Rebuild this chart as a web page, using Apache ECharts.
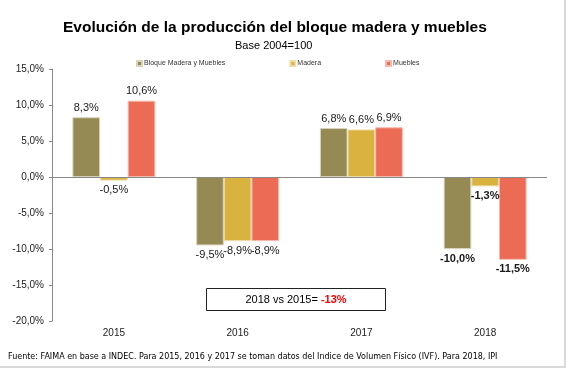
<!DOCTYPE html>
<html><head><meta charset="utf-8">
<script src="https://cdn.jsdelivr.net/npm/echarts@6/dist/echarts.min.js"></script>
<style>html,body{margin:0;padding:0;background:#fff}#c{width:566px;height:369px}</style>
</head><body><div id="c"></div>
<script>
var categories = ['2015', '2016', '2017', '2018'];
var bloque = [8.3, -9.5, 6.8, -10.0];
var madera = [-0.5, -8.9, 6.6, -1.3];
var muebles = [10.6, -8.9, 6.9, -11.5];
var seriesNames = ['Bloque Madera y Muebles', 'Madera', 'Muebles'];
var colors = ['#958A54', '#D9B240', '#EC6B55'];
var borders = ['#D8D2BA', '#EEDCA6', '#F6B9AE'];
var boldCats = ['2018'];

function fmt(v){ return v.toFixed(1).replace('.', ',') + '%'; }
function build(arr){
  return arr.map(function(v, i){
    var bold = boldCats.indexOf(categories[i]) >= 0;
    return { value: v, label: { position: v < 0 ? 'bottom' : 'top', fontWeight: bold ? 'bold' : 'normal' } };
  });
}
var allData = [bloque, madera, muebles];
var chart = echarts.init(document.getElementById('c'), null, {renderer: 'canvas'});
var series = allData.map(function(arr, k){
  var s = {
    name: seriesNames[k], type: 'bar', data: build(arr),
    barGap: '0%', barCategoryGap: '33%',
    itemStyle: { color: colors[k], borderColor: borders[k], borderWidth: 1 },
    label: { show: true, fontSize: 11, color: '#1a1a1a', fontFamily: 'Liberation Sans, Arial, sans-serif', distance: 4,
      formatter: function(p){ return fmt(p.value); } }
  };
  if (k === 0) {
    s.markLine = { silent: true, symbol: 'none', label: { show: false },
      lineStyle: { color: '#888', width: 1, type: 'solid' }, data: [{ yAxis: 0 }] };
  }
  return s;
});
chart.setOption({
  animation: false,
  title: [
    { text: 'Evolución de la producción del bloque madera y muebles', left: 58, top: 15,
      textStyle: { fontSize: 15.5, fontWeight: 'bold', color: '#000', fontFamily: 'Liberation Sans, Arial, sans-serif' } },
    { text: 'Base 2004=100', left: 230, top: 35,
      textStyle: { fontSize: 11, fontWeight: 'normal', color: '#000', fontFamily: 'Liberation Sans, Arial, sans-serif' } }
  ],
  legend: { top: 55, left: 131, itemWidth: 5, itemHeight: 5, itemGap: 64, icon: 'rect',
    textStyle: { fontSize: 7, color: '#333', fontFamily: 'Liberation Sans, Arial, sans-serif', padding: [0,0,0,-3] },
    data: seriesNames },
  grid: { left: 52, right: 19, top: 69, bottom: 48 },
  xAxis: { type: 'category', data: categories,
    axisLine: { show: false, onZero: false }, axisTick: { show: false },
    axisLabel: { fontSize: 10, color: '#222', margin: 7, fontFamily: 'Liberation Sans, Arial, sans-serif' } },
  yAxis: { type: 'value', min: -20, max: 15, interval: 5,
    splitLine: { show: false },
    axisLine: { show: true, lineStyle: { color: '#888' } },
    axisTick: { show: true, length: 3, lineStyle: { color: '#888' } },
    axisLabel: { fontSize: 10, color: '#222', margin: 8, fontFamily: 'Liberation Sans, Arial, sans-serif',
      formatter: function(v){ return fmt(v); } } },
  series: series,
  graphic: [
    { type: 'rect', shape: { x: 206.5, y: 288.5, width: 179, height: 22 }, style: { fill: '#fff', stroke: '#222', lineWidth: 1 } },
    { type: 'text', x: 296, y: 299.5, style: { text: '{a|2018 vs 2015= }{b|-13%}', align: 'center', verticalAlign: 'middle',
      rich: { a: { fontSize: 11, fill: '#000', fontFamily: 'Liberation Sans, Arial, sans-serif' },
              b: { fontSize: 11, fill: '#FF0000', fontWeight: 'bold', fontFamily: 'Liberation Sans, Arial, sans-serif' } } } },
    { type: 'text', x: 8, y: 357, style: { text: 'Fuente: FAIMA en base a INDEC. Para 2015, 2016 y 2017 se toman datos del Indice de Volumen Físico (IVF). Para 2018, IPI',
      verticalAlign: 'middle', fontSize: 8, fill: '#000', fontFamily: 'DejaVu Sans, Verdana, sans-serif' } },
    { type: 'line', shape: { x1: 565, y1: 0, x2: 565, y2: 367 }, style: { stroke: '#D9D9D9', lineWidth: 2 } },
    { type: 'line', shape: { x1: 0, y1: 367, x2: 566, y2: 367 }, style: { stroke: '#D9D9D9', lineWidth: 2 } }
  ]
});
</script></body></html>
